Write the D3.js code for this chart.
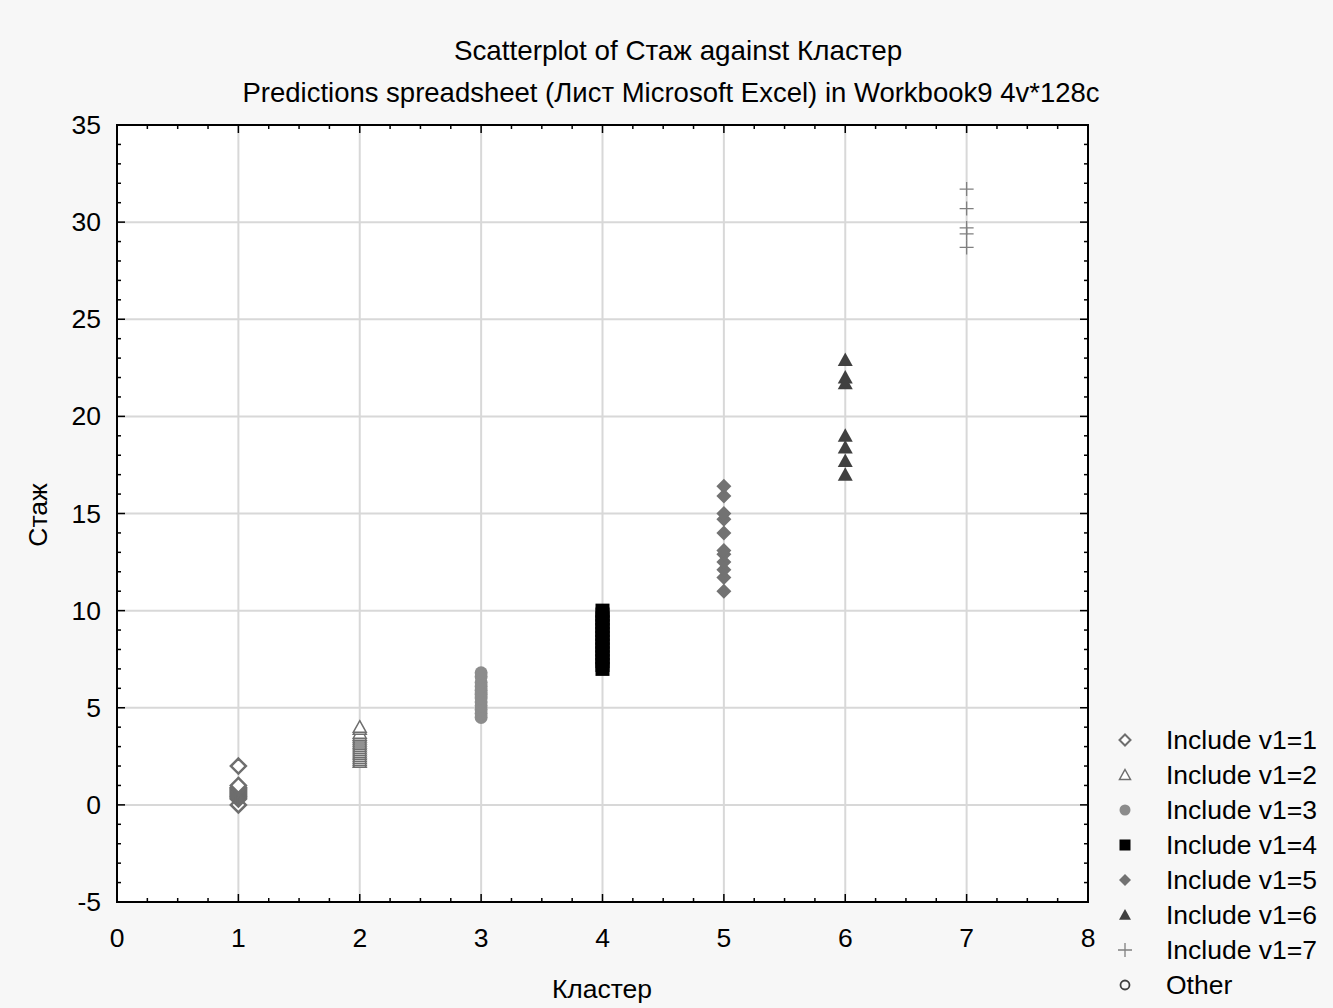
<!DOCTYPE html>
<html>
<head>
<meta charset="utf-8">
<script src="https://cdn.jsdelivr.net/npm/d3@7"></script>
<style>
  body { margin: 0; background: #f7f7f7; }
  svg { display: block; font-family: "Liberation Sans", Arial, sans-serif; }
</style>
</head>
<body>
<div id="chart"></div>
<script>
// values (Стаж per Кластер)
const cluster1 = [0, 0.3, 0.35, 0.4, 0.45, 0.5, 0.55, 0.6, 0.65, 0.7, 0.75, 0.8, 0.85, 0.9, 1.0, 2.0];
const cluster2 = [2.2, 2.3, 2.4, 2.5, 2.6, 2.7, 2.8, 2.9, 3.0, 3.1, 3.2, 3.3, 3.4, 3.5, 3.6, 3.7, 3.9, 4.0];
const cluster3 = [4.5, 4.7, 4.9, 5.1, 5.3, 5.5, 5.7, 5.9, 6.1, 6.3, 6.6, 6.8];
const cluster4 = [7.0, 7.2, 7.4, 7.6, 7.8, 8.0, 8.2, 8.4, 8.6, 8.8, 9.0, 9.2, 9.4, 9.6, 9.8, 10.0];
const cluster5 = [11, 11.7, 12.1, 12.5, 12.9, 13.1, 14, 14.7, 15, 15.9, 16.4];
const cluster6 = [17.0, 17.7, 18.4, 19.0, 21.7, 22.0, 22.9];
const cluster7 = [28.7, 29.4, 29.7, 30.7, 31.7];

const legendLabels = ["Include v1=1", "Include v1=2", "Include v1=3", "Include v1=4",
                      "Include v1=5", "Include v1=6", "Include v1=7", "Other"];
const xTicks = [0, 1, 2, 3, 4, 5, 6, 7, 8];
const yTicks = [-5, 0, 5, 10, 15, 20, 25, 30, 35];

const rawWidth = 1333, rawHeight = 1008;
const margin = { left: 117, right: 245, top: 125, bot: 106 };
const width = rawWidth - margin.left - margin.right;
const height = rawHeight - margin.top - margin.bot;
const fs = 26.5;

const svg = d3.select('#chart').append('svg')
    .attr('width', rawWidth).attr('height', rawHeight);

svg.append('rect').attr('width', rawWidth).attr('height', rawHeight).attr('fill', '#f7f7f7');

const x = d3.scaleLinear().domain([0, 8]).range([0, width]);
const y = d3.scaleLinear().domain([-5, 35]).range([height, 0]);

const g = svg.append('g').attr('transform', `translate(${margin.left},${margin.top})`);
g.append('rect').attr('width', width).attr('height', height).attr('fill', '#fff');

// grid
g.append('g').selectAll('line').data(xTicks.slice(1, -1)).join('line')
    .attr('x1', d => x(d)).attr('x2', d => x(d)).attr('y1', 0).attr('y2', height)
    .attr('stroke', '#d8d8d8').attr('stroke-width', 2);
g.append('g').selectAll('line').data(yTicks.slice(1, -1)).join('line')
    .attr('y1', d => y(d)).attr('y2', d => y(d)).attr('x1', 0).attr('x2', width)
    .attr('stroke', '#d8d8d8').attr('stroke-width', 2);

// symbol paths
const diamond = r => `M0,${-r}L${r},0L0,${r}L${-r},0Z`;
const triangle = r => `M0,${-r}L${r},${r * 0.8}L${-r},${r * 0.8}Z`;
const square = r => `M${-r},${-r}H${r}V${r}H${-r}Z`;
const circle = r => d3.symbol(d3.symbolCircle, Math.PI * r * r)();
const cross = r => `M${-r},0H${r}M0,${-r}V${r}`;

const series = [
    { k: 1, data: cluster1, path: diamond, r: 7.5, fill: '#fff', stroke: '#6e6e6e', sw: 2.5, lr: 5.5 },
    { k: 2, data: cluster2, path: triangle, r: 6.5, fill: '#fff', stroke: '#6e6e6e', sw: 1.5, lr: 5.5 },
    { k: 3, data: cluster3, path: circle, r: 6.5, fill: '#8c8c8c', stroke: 'none', sw: 0, lr: 5.5 },
    { k: 4, data: cluster4, path: square, r: 7, fill: '#000', stroke: 'none', sw: 0, lr: 5.5 },
    { k: 5, data: cluster5, path: diamond, r: 7.5, fill: '#727272', stroke: 'none', sw: 0, lr: 6 },
    { k: 6, data: cluster6, path: triangle, r: 7.5, fill: '#404040', stroke: 'none', sw: 0, lr: 6 },
    { k: 7, data: cluster7, path: cross, r: 7, fill: 'none', stroke: '#808080', sw: 1.3, lr: 7 },
    { k: null, data: [], path: circle, r: 4, fill: 'none', stroke: '#404040', sw: 1.8, lr: 4.5 }
];

series.forEach(s => {
    g.append('g').selectAll('path').data(s.data).join('path')
        .attr('transform', d => `translate(${x(s.k)},${y(d)})`)
        .attr('d', s.path(s.r))
        .attr('fill', s.fill).attr('stroke', s.stroke).attr('stroke-width', s.sw);
});

// ticks on all four sides, pointing inward
const ticks = g.append('g').attr('stroke', '#000');
const xMinor = d3.range(0, 8.001, 0.25);
const yMinor = d3.range(-5, 35.001, 1);
xMinor.forEach(v => {
    const len = Number.isInteger(v) ? 8 : 4;
    ticks.append('line').attr('x1', x(v)).attr('x2', x(v)).attr('y1', height).attr('y2', height - len).attr('stroke-width', 1.5);
    ticks.append('line').attr('x1', x(v)).attr('x2', x(v)).attr('y1', 0).attr('y2', len).attr('stroke-width', 1.5);
});
yMinor.forEach(v => {
    const len = v % 5 === 0 ? 8 : 4;
    ticks.append('line').attr('y1', y(v)).attr('y2', y(v)).attr('x1', 0).attr('x2', len).attr('stroke-width', 1.5);
    ticks.append('line').attr('y1', y(v)).attr('y2', y(v)).attr('x1', width).attr('x2', width - len).attr('stroke-width', 1.5);
});
g.append('rect').attr('width', width).attr('height', height)
    .attr('fill', 'none').attr('stroke', '#000').attr('stroke-width', 2);

// tick labels
g.append('g').selectAll('text').data(xTicks).join('text')
    .attr('x', d => x(d)).attr('y', height + 45)
    .attr('text-anchor', 'middle').attr('font-size', fs).text(d => d);
g.append('g').selectAll('text').data(yTicks).join('text')
    .attr('x', -16).attr('y', d => y(d) + 9)
    .attr('text-anchor', 'end').attr('font-size', fs).text(d => d);

// titles
svg.append('text').attr('x', 678).attr('y', 60).attr('text-anchor', 'middle')
    .attr('font-size', 27.8).text('Scatterplot of Стаж against Кластер');
svg.append('text').attr('x', 671).attr('y', 102).attr('text-anchor', 'middle')
    .attr('font-size', 27.5).text('Predictions spreadsheet (Лист Microsoft Excel) in Workbook9 4v*128c');
svg.append('text').attr('x', 602).attr('y', 998).attr('text-anchor', 'middle')
    .attr('font-size', fs).text('Кластер');
svg.append('text').attr('transform', 'translate(47,515) rotate(-90)').attr('text-anchor', 'middle')
    .attr('font-size', fs).text('Стаж');

// legend
const legend = svg.append('g').attr('transform', 'translate(1125,740)');
series.forEach((s, i) => {
    legend.append('path').attr('transform', `translate(0,${i * 35})`)
        .attr('d', s.path(s.lr))
        .attr('fill', s.fill).attr('stroke', s.stroke).attr('stroke-width', s.k === 1 ? 2 : s.sw);
    legend.append('text').attr('x', 41).attr('y', i * 35 + 9)
        .attr('font-size', fs).text(legendLabels[i]);
});
</script>
</body>
</html>
